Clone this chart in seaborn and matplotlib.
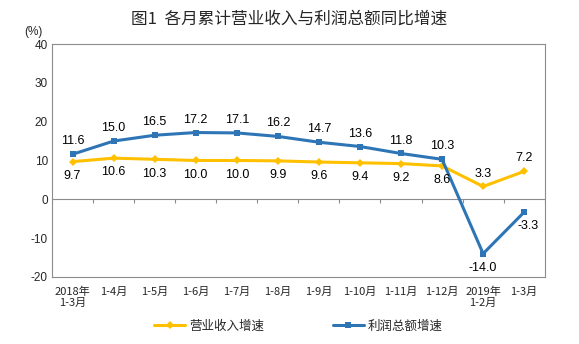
import matplotlib
matplotlib.use("Agg")
import matplotlib.pyplot as plt
import seaborn as sns
import pandas as pd
import numpy as np

categories = ["2018年\n1-3月", "1-4月", "1-5月", "1-6月", "1-7月", "1-8月", "1-9月",
              "1-10月", "1-11月", "1-12月", "2019年\n1-2月", "1-3月"]
revenue = [9.7, 10.6, 10.3, 10.0, 10.0, 9.9, 9.6, 9.4, 9.2, 8.6, 3.3, 7.2]
profit = [11.6, 15.0, 16.5, 17.2, 17.1, 16.2, 14.7, 13.6, 11.8, 10.3, -14.0, -3.3]
yticks = [-20, -10, 0, 10, 20, 30, 40]
series_names = ["营业收入增速", "利润总额增速"]

sns.set_theme(style="white")
plt.rcParams['font.family'] = ['Liberation Sans', 'Noto Sans CJK SC', 'DejaVu Sans']

orange = "#FFC000"
blue = "#2E75B6"

df = pd.DataFrame({
    "idx": list(range(len(categories))) * 2,
    "value": revenue + profit,
    "series": [series_names[0]] * len(categories) + [series_names[1]] * len(categories),
})

fig = plt.figure(figsize=(5.79, 3.44), dpi=100)
ax = fig.add_axes([0.0898, 0.195, 0.851, 0.677])

sns.lineplot(data=df, x="idx", y="value", hue="series", style="series",
             palette=[orange, blue], markers=["D", "s"], dashes=False,
             markersize=4.5, linewidth=2.2, markeredgewidth=0, ax=ax, legend=True)

ax.set_xlim(-0.5, len(categories) - 0.5)
ax.set_ylim(-20, 40)
ax.set_yticks(yticks)
ax.set_yticklabels([str(v) for v in yticks], fontsize=8.5)
ax.set_xticks(range(len(categories)))
ax.set_xticklabels(categories, fontsize=8, family=['Noto Sans CJK SC'], linespacing=1.15)
ax.tick_params(axis='both', length=0, pad=3)
ax.tick_params(axis='x', pad=7)
ax.set_xlabel("")
ax.set_ylabel("")
for s in ax.spines.values():
    s.set_color("#8C8C8C")
    s.set_linewidth(0.8)

# zero line with category-boundary ticks
ax.axhline(0, color="#8C8C8C", linewidth=0.8, zorder=1)
ax.vlines(np.arange(len(categories) + 1) - 0.5, -0.9, 0, color="#8C8C8C", linewidth=0.8, zorder=1)

# data labels
for i, (r, p) in enumerate(zip(revenue, profit)):
    if i < len(categories) - 2:
        ax.annotate(f"{r:.1f}", (i, r), xytext=(0, -6), textcoords="offset points",
                    ha="center", va="top", fontsize=9, color="black")
        ax.annotate(f"{p:.1f}", (i, p), xytext=(0, 5), textcoords="offset points",
                    ha="center", va="bottom", fontsize=9, color="black")
    else:
        ax.annotate(f"{r:.1f}", (i, r), xytext=(0, 5), textcoords="offset points",
                    ha="center", va="bottom", fontsize=9, color="black")
        off = (0, -6) if i == len(categories) - 2 else (3, -6)
        ax.annotate(f"{p:.1f}", (i, p), xytext=off, textcoords="offset points",
                    ha="center", va="top", fontsize=9, color="black")

ax.text(-0.038, 1.025, "(%)", transform=ax.transAxes, fontsize=8.5,
        ha="center", va="bottom")

leg = ax.legend(loc="center", bbox_to_anchor=(0.5, -0.21), ncol=2, frameon=False,
                handlelength=2.5, columnspacing=5.5, handletextpad=0.3,
                prop={'family': ['Noto Sans CJK SC'], 'size': 9})

fig.suptitle("图1  各月累计营业收入与利润总额同比增速", y=0.968, fontsize=12,
             family=['Noto Sans CJK SC'])

fig.savefig("out.png", dpi=100)
